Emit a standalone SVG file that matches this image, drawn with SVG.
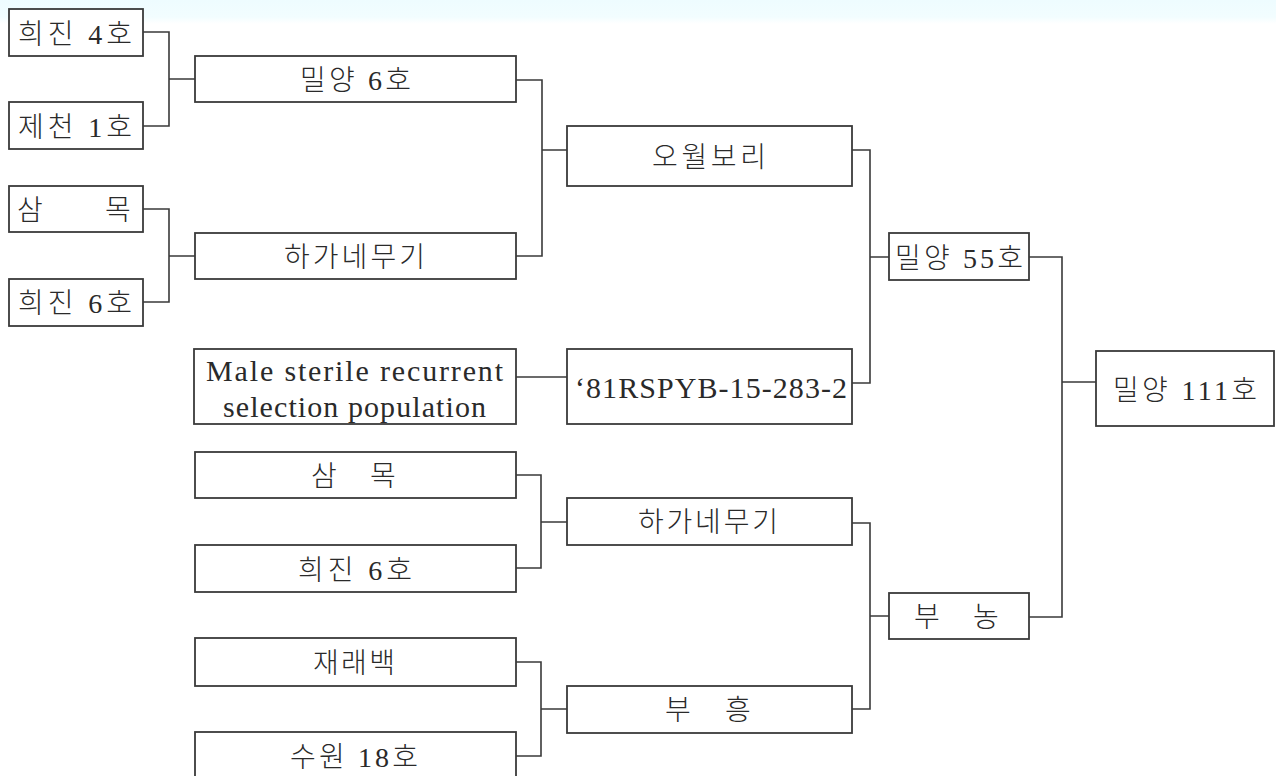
<svg xmlns="http://www.w3.org/2000/svg" width="1276" height="776" viewBox="0 0 1276 776">
<defs>
<linearGradient id="band" x1="0" y1="0" x2="0" y2="1">
<stop offset="0" stop-color="#eefcff"/>
<stop offset="0.7" stop-color="#f2fdff"/>
<stop offset="1" stop-color="#ffffff"/>
</linearGradient>
<style>
.box{fill:#fff;stroke:#3a3a3a;stroke-width:1.8}
.ln{fill:none;stroke:#3a3a3a;stroke-width:1.6}
text{font-family:"Liberation Serif","Noto Sans CJK KR",serif;font-size:28px;font-weight:300;fill:#2a2a2a}
.en{font-size:30px;font-weight:400}
</style>
</defs>
<rect x="0" y="0" width="1276" height="776" fill="#fff"/>
<rect x="0" y="0" width="1276" height="24" fill="url(#band)"/>

<g id="connectors">
<path class="ln" d="M143,32H169V126H143M169,79H195"/>
<path class="ln" d="M143,209H169V302H143M169,256H195"/>
<path class="ln" d="M516,80H542V256H516M542,150H567"/>
<path class="ln" d="M852,150H870V383H852M870,257H889"/>
<path class="ln" d="M516,377H567"/>
<path class="ln" d="M516,475H541V568H516M541,522H567"/>
<path class="ln" d="M516,662H541V756H516M541,709H567"/>
<path class="ln" d="M852,523H870V709H852M870,616H889"/>
<path class="ln" d="M1029,257H1062V617H1029M1062,382H1096"/>
</g>

<g id="n-huijin4"><rect class="box" x="9" y="9" width="134" height="47"/><text x="18" y="44" textLength="114" lengthAdjust="spacing">희진 4호</text></g>
<g id="n-jecheon1"><rect class="box" x="9" y="102" width="134" height="47"/><text x="18" y="137" textLength="114" lengthAdjust="spacing">제천 1호</text></g>
<g id="n-sammok1"><rect class="box" x="9" y="186" width="134" height="46"/><text y="220"><tspan x="17">삼</tspan><tspan x="105">목</tspan></text></g>
<g id="n-huijin6a"><rect class="box" x="9" y="279" width="134" height="47"/><text x="18" y="313" textLength="114" lengthAdjust="spacing">희진 6호</text></g>

<g id="n-milyang6"><rect class="box" x="195" y="56" width="321" height="46"/><text x="300" y="90" textLength="111" lengthAdjust="spacing">밀양 6호</text></g>
<g id="n-haganemugi1"><rect class="box" x="195" y="233" width="321" height="46"/><text x="284" y="267" textLength="141" lengthAdjust="spacing">하가네무기</text></g>
<g id="n-malesterile"><rect class="box" x="194" y="349" width="322" height="75"/>
<text class="en" x="206" y="381" textLength="297" lengthAdjust="spacing">Male sterile recurrent</text>
<text class="en" x="223" y="417" textLength="263" lengthAdjust="spacing">selection population</text></g>
<g id="n-sammok2"><rect class="box" x="195" y="452" width="321" height="46"/><text y="486"><tspan x="311">삼</tspan><tspan x="370">목</tspan></text></g>
<g id="n-huijin6b"><rect class="box" x="195" y="545" width="321" height="47"/><text x="298" y="580" textLength="114" lengthAdjust="spacing">희진 6호</text></g>
<g id="n-jaeraebaek"><rect class="box" x="195" y="638" width="321" height="48"/><text x="313" y="673" textLength="82" lengthAdjust="spacing">재래백</text></g>
<g id="n-suwon18"><rect class="box" x="195" y="732" width="321" height="48"/><text x="290" y="767" textLength="128" lengthAdjust="spacing">수원 18호</text></g>

<g id="n-owolbori"><rect class="box" x="567" y="126" width="285" height="60"/><text x="652" y="167" textLength="114" lengthAdjust="spacing">오월보리</text></g>
<g id="n-81rspyb"><rect class="box" x="567" y="349" width="285" height="75"/><text class="en" x="575" y="398" textLength="272" lengthAdjust="spacing">‘81RSPYB-15-283-2</text></g>
<g id="n-haganemugi2"><rect class="box" x="567" y="498" width="285" height="47"/><text x="638" y="532" textLength="140" lengthAdjust="spacing">하가네무기</text></g>
<g id="n-buheung"><rect class="box" x="567" y="686" width="285" height="47"/><text y="720"><tspan x="665">부</tspan><tspan x="725">흥</tspan></text></g>

<g id="n-milyang55"><rect class="box" x="889" y="233" width="140" height="47"/><text x="895" y="268" textLength="128" lengthAdjust="spacing">밀양 55호</text></g>
<g id="n-bunong"><rect class="box" x="889" y="593" width="140" height="46"/><text y="627"><tspan x="914">부</tspan><tspan x="973">농</tspan></text></g>

<g id="n-milyang111"><rect class="box" x="1096" y="351" width="178" height="75"/><text x="1113" y="400" textLength="144" lengthAdjust="spacing">밀양 111호</text></g>
</svg>
